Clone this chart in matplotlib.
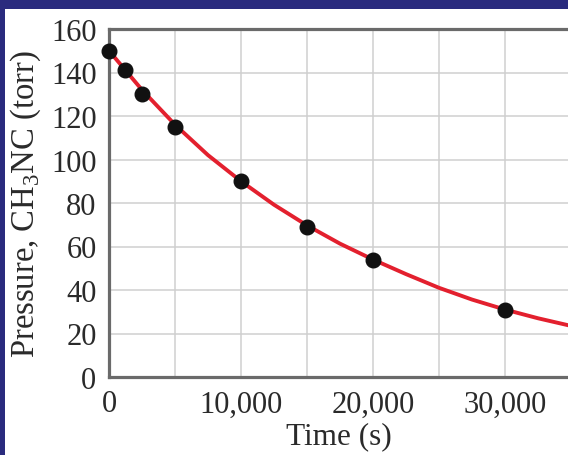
import numpy as np
import matplotlib
matplotlib.use("Agg")
import matplotlib.pyplot as plt
from matplotlib.patches import Rectangle

# measured points
time_s = [0, 1200, 2500, 5000, 10000, 15000, 20000, 30000]
pressure = [150, 141, 130, 115, 90, 69, 54, 31]

# smooth red curve, every 2500 s
curve_t = [0, 2500, 5000, 7500, 10000, 12500, 15000, 17500, 20000,
           22500, 25000, 27500, 30000, 32500, 35000]
curve_p = [150, 132, 116, 102, 90, 79.2, 69.7, 61.3, 54,
           47.3, 41, 35.6, 31, 27, 23.5]

xticks = [0, 10000, 20000, 30000]
xticklabels = ['0', '10,000', '20,000', '30,000']
yticks = [0, 20, 40, 60, 80, 100, 120, 140, 160]

plt.rcParams['font.family'] = ['Liberation Serif', 'DejaVu Serif']
plt.rcParams['mathtext.fontset'] = 'custom'
plt.rcParams['mathtext.rm'] = 'Liberation Serif'

W, H = 568, 456
fig = plt.figure(figsize=(W/100, H/100), dpi=100, facecolor='#2a2b7e')
# white panel
fig.patches.append(Rectangle((5/W, 0), 1, 1 - 10/H, transform=fig.transFigure,
                             facecolor='white', edgecolor='none', zorder=-1))

ax = fig.add_axes([109/W, 1 - 378/H, (W - 109)/W, 348/H])
ax.set_facecolor('white')

ax.plot(curve_t, curve_p, color='#e3202e', lw=2.8, zorder=3,
        solid_capstyle='round', solid_joinstyle='round')
ax.plot(time_s, pressure, 'o', color='#111111', ms=10.5, zorder=4, clip_on=False)

ax.set_xlim(0, 34770)
ax.set_ylim(0, 160)
ax.set_xticks(xticks)
ax.set_xticklabels(xticklabels)
ax.set_xticks(np.arange(5000, 35000, 5000), minor=True)
ax.set_yticks(yticks)
ax.grid(True, which='both', color='#cfcfcf', lw=1.1, zorder=1)
ax.set_axisbelow(True)

ax.tick_params(axis='both', which='both', length=0, labelsize=22, colors='#2a2a2a')
ax.tick_params(axis='y', pad=9)
ax.tick_params(axis='x', pad=9)

for s in ['left', 'bottom', 'top']:
    ax.spines[s].set_color('#6a6a6a')
    ax.spines[s].set_linewidth(2.3)
ax.spines['right'].set_visible(False)

ax.set_xlabel('Time (s)', fontsize=22.5, color='#2a2a2a', labelpad=2)
ax.set_ylabel('Pressure, CH$_3$NC (torr)', fontsize=23.5, color='#2a2a2a')
ax.yaxis.label.set_va('center')
ax.yaxis.set_label_coords(-(109 - 26)/459, 0.5)

fig.savefig('out.png', dpi=100, facecolor=fig.get_facecolor())
